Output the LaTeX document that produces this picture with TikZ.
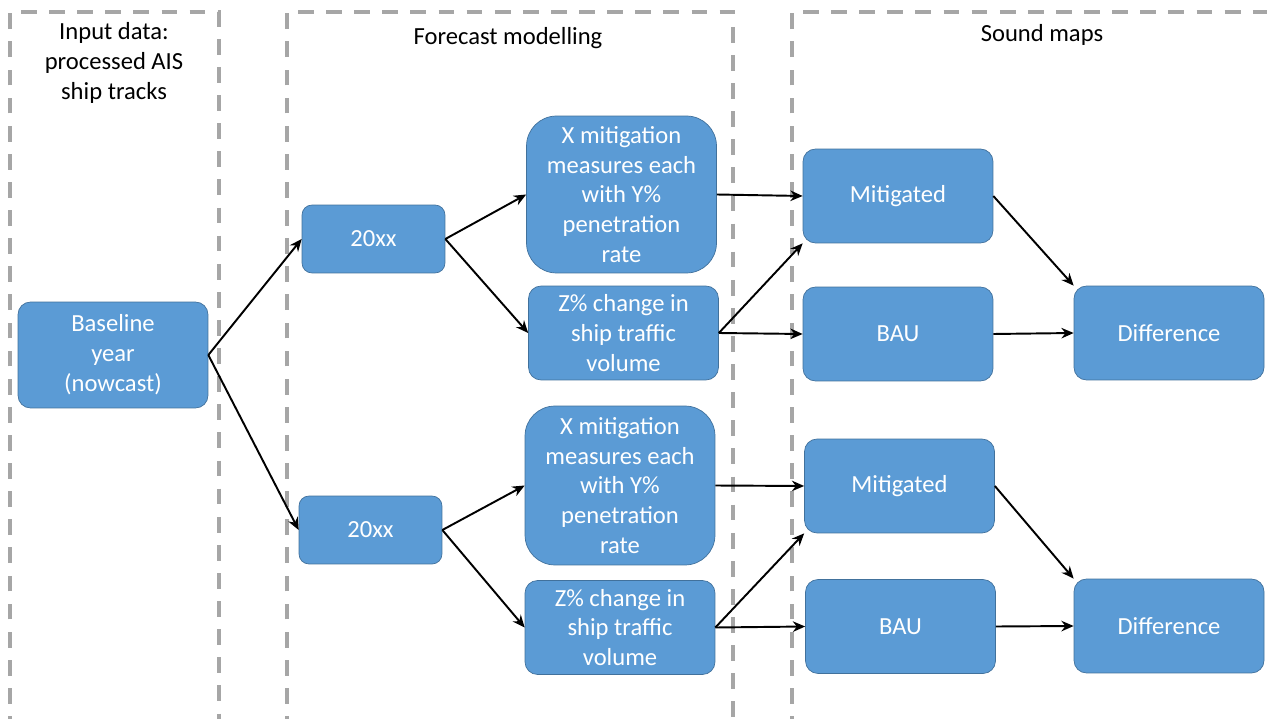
\documentclass[tikz,border=0pt]{standalone}
\usepackage{fontspec}
\setmainfont{Carlito}
\usetikzlibrary{arrows.meta}
\definecolor{boxblue}{HTML}{5B9BD5}
\definecolor{boxline}{HTML}{41719C}
\definecolor{dashgray}{HTML}{A6A6A6}

\begin{document}
\begin{tikzpicture}[x=0.02cm,y=-0.02cm,
  stage/.style={draw=boxline, fill=boxblue, text=white, rounded corners=0.25cm,
    align=center, inner sep=0pt, minimum width=3.8cm, minimum height=1.88cm,
    font=\fontsize{14}{17}\selectfont},
  flow/.style={-{Stealth[length=7pt,width=6pt]}, line width=1.1pt},
  frame/.style={draw=dashgray, line width=2.3pt, dash pattern=on 9pt off 7pt},
  heading/.style={align=center, font=\fontsize{14}{17}\selectfont}]
  \useasboundingbox (0,0) rectangle (1267,719);
  % dashed column frames
  \draw[frame] (10,760) -- (10,12) -- (219,12) -- (219,760);
  \draw[frame] (287,760) -- (287,12) -- (733,12) -- (733,760);
  \draw[frame] (792,760) -- (792,12) -- (1300,12);
  \node[heading] (hin) at (114,63) {Input data:\\processed AIS\\ship tracks};
  \node[heading] (hfc) at (508,38) {Forecast modelling};
  \node[heading] (hsm) at (1042,35) {Sound maps};
  % boxes
  \node[stage, minimum height=2.12cm] (base) at (113,355) {Baseline\\year\\(nowcast)};
  \node[stage, minimum width=2.86cm, minimum height=1.36cm, rounded corners=0.2cm] (yrA) at (373.5,239) {20xx};
  \node[stage, minimum width=2.86cm, minimum height=1.36cm, rounded corners=0.2cm] (yrB) at (370.5,530) {20xx};
  \node[stage, minimum height=3.14cm, rounded corners=0.6cm] (mitA) at (621.5,194.5) {X mitigation\\measures each\\with Y\%\\penetration\\rate};
  \node[stage, minimum height=3.18cm, rounded corners=0.6cm] (mitB) at (620,485.5) {X mitigation\\measures each\\with Y\%\\penetration\\rate};
  \node[stage] (volA) at (623.5,333) {Z\% change in\\ship traffic\\volume};
  \node[stage] (volB) at (620,627.5) {Z\% change in\\ship traffic\\volume};
  \node[stage] (smA) at (898,196) {Mitigated};
  \node[stage] (bauA) at (898,334) {BAU};
  \node[stage] (smB) at (899.5,486) {Mitigated};
  \node[stage] (bauB) at (900.5,626.5) {BAU};
  \node[stage] (diffA) at (1169,333) {Difference};
  \node[stage] (diffB) at (1169,626) {Difference};
  % connectors
  \foreach \y in {A,B} {
    \draw[flow] (base.east) -- (yr\y.west);
    \draw[flow] (yr\y.east) -- (mit\y.west);
    \draw[flow] (yr\y.east) -- (vol\y.west);
    \draw[flow] (mit\y.east) -- (sm\y.west);
    \draw[flow] (vol\y.east) -- (sm\y.south west);
    \draw[flow] (vol\y.east) -- (bau\y.west);
    \draw[flow] (sm\y.east) -- (diff\y.north west);
    \draw[flow] (bau\y.east) -- (diff\y.west);
  }
\end{tikzpicture}
\end{document}
